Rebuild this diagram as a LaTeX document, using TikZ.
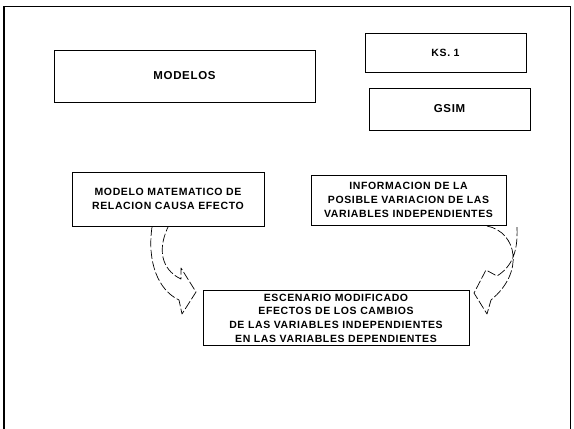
\documentclass[tikz,border=0pt]{standalone}
\usepackage{fontspec}
\setmainfont{Liberation Sans}
\newfontfamily\scanfont[LetterSpace=6]{Liberation Sans}

\begin{document}
\begin{tikzpicture}[x=1pt, y=-1pt, line width=0.8pt,
  box/.style={draw, rectangle, inner sep=0pt, align=center,
    font=\scanfont\bfseries\fontsize{10.5}{13.7}\selectfont},
  titlebox/.style={box, font=\scanfont\bfseries\fontsize{10.5}{12}\selectfont},
  band/.style={draw, line width=0.7pt, line join=round, dash pattern=on 9pt off 2.5pt}]
  \useasboundingbox (0,0) rectangle (574,429);
  % frame of the sheet
  \draw[line width=2.5pt] (4,429) -- (4,6);
  \draw (4,6) -- (570,6) -- (570,429);
  % upper boxes
  \node[titlebox, minimum width=261, minimum height=52, font=\scanfont\bfseries\fontsize{11.5}{12}\selectfont]
    (modelos) at (184.5,76) {MODELOS};
  \node[titlebox, minimum width=161, minimum height=39] (ks) at (445.5,52.5) {KS. 1};
  \node[titlebox, minimum width=161, minimum height=42, font=\scanfont\bfseries\fontsize{11.5}{12}\selectfont]
    (gsim) at (449.5,109) {GSIM};
  % middle row
  \node[box, minimum width=192, minimum height=54] (modelo) at (168,199)
    {MODELO MATEMATICO DE\\RELACION CAUSA EFECTO};
  \node[box, minimum width=195, minimum height=50] (info) at (408.5,200)
    {INFORMACION DE LA\\POSIBLE VARIACION DE LAS\\VARIABLES INDEPENDIENTES};
  % result
  \node[box, minimum width=266, minimum height=55] (escenario) at (336,318)
    {ESCENARIO MODIFICADO\\EFECTOS DE LOS CAMBIOS\\DE LAS VARIABLES INDEPENDIENTES\\EN LAS VARIABLES DEPENDIENTES};
  % curved block arrows
  \draw[band] (152,227) .. controls (147,262) and (158,290) .. (179,300)
    -- (182,314) -- (196,292) -- (181,268) -- (181,279)
    .. controls (166,272) and (155,255) .. (168,227);
  \draw[band] (487,226) .. controls (517,232) and (525,272) .. (491,300)
    -- (487,314) -- (474,293) -- (486,270) -- (497,276)
    .. controls (513,266) and (518,250) .. (517,227);
\end{tikzpicture}
\end{document}
